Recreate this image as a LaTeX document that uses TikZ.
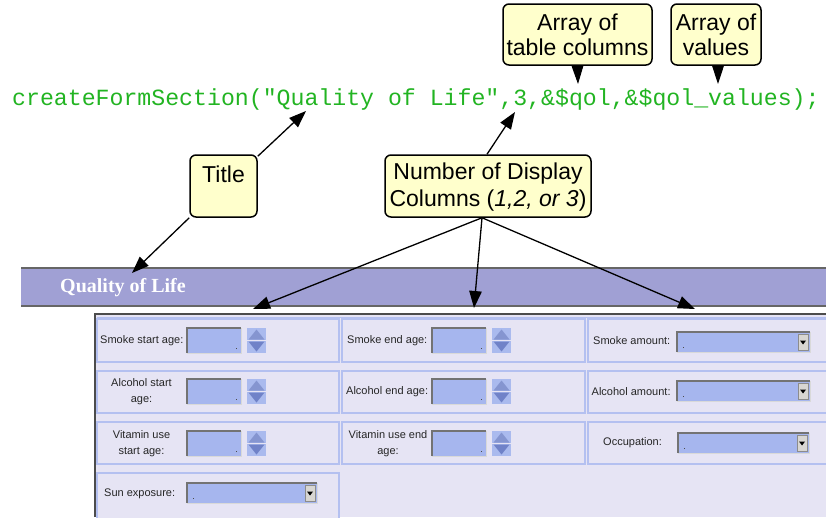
\documentclass[tikz,border=0pt]{standalone}
\usepackage{fontspec}
\usetikzlibrary{arrows.meta}
\newfontfamily\sansf{Liberation Sans}
\newfontfamily\seriff{Liberation Serif}
\newfontfamily\monof{Liberation Mono}
\definecolor{codegreen}{RGB}{34,180,34}
\definecolor{calloutfill}{RGB}{255,255,204}
\definecolor{barfill}{RGB}{160,160,212}
\definecolor{panelfill}{RGB}{230,228,244}
\definecolor{cellline}{RGB}{180,192,240}
\definecolor{boxfill}{RGB}{166,182,238}
\definecolor{spinbg}{RGB}{170,186,238}
\definecolor{spintri}{RGB}{112,130,200}
\definecolor{btnfill}{RGB}{216,214,210}
\tikzset{
  callout/.style={draw=black, line width=1.5pt, fill=calloutfill, rounded corners=6pt,
    align=center, inner sep=0pt},
  callfont/.style={font={\sansf\fontsize{23}{#1}\selectfont}},
  pointer/.style={line width=1.3pt, -{Triangle[length=17pt,width=12.5pt]}},
  tab/.style={line width=1pt, -{Triangle[length=18pt,width=11.5pt]}},
  cell/.style={draw=cellline, line width=1.2pt, fill=panelfill},
  lbl/.style={font={\sansf\fontsize{11}{16}\selectfont}, inner sep=0pt, text=black!85},
  pics/numbox/.style={code={
    \fill[boxfill] (0,0) rectangle (54,25);
    \draw[black!55, line width=1.2pt] (0,25) -- (0,0) -- (54,0);
    \draw[white!85!black, line width=0.8pt] (54,0) -- (54,25) -- (0,25);
    \fill[black!70] (48.5,19.5) rectangle (49.7,20.7);
    % spinner buttons
    \fill[spinbg] (60,0) rectangle (79,12.3);
    \fill[spinbg] (60,12.7) rectangle (79,25);
    \fill[spintri!85!white] (61.5,11.5) -- (77.5,11.5) -- (69.5,1.5) -- cycle;
    \fill[spintri] (61.5,13.5) -- (77.5,13.5) -- (69.5,23.5) -- cycle;
  }},
  pics/combo/.style={code={
    \fill[boxfill] (0,0) rectangle (#1,20);
    \draw[black!55, line width=1.2pt] (0,20) -- (0,0) -- (#1,0);
    \draw[white!85!black, line width=0.8pt] (#1,0) -- (#1,20) -- (0,20);
    \fill[black!70] (6,14.5) rectangle (7.2,15.7);
    \filldraw[fill=btnfill, draw=black!45, line width=0.6pt] (#1-12,2) rectangle (#1-2,18);
    \fill[black] (#1-10,8.5) -- (#1-4,8.5) -- (#1-7,12.5) -- cycle;
  }},
}
\begin{document}
\begin{tikzpicture}[x=1pt, y=-1pt]
\useasboundingbox (0,0) rectangle (826,517);

% ---- function call ----
\node[anchor=west, inner sep=0pt, text=codegreen, font={\monof\fontsize{23.2}{26}\selectfont}]
  (code) at (12,99.5) {createFormSection("Quality of Life",3,\&\$qol,\&\$qol\_values);};

% ---- form section header ----
\fill[barfill] (21,268) rectangle (826,306);
\draw[black!60, line width=1.2pt] (21,268) -- (826,268);
\draw[black!60, line width=1.2pt] (21,306) -- (826,306);
\node[anchor=west, inner sep=0pt, text=white, font={\seriff\bfseries\fontsize{20}{24}\selectfont}]
  (hdr) at (60,288) {Quality of Life};

% ---- form panel ----
\fill[panelfill] (95,314) rectangle (826,517);
\draw[cellline, line width=1.2pt] (97,317.5) -- (826,317.5);
\draw[black!70, line width=1.2pt] (95,517) -- (95,314) -- (826,314);

% cells
\foreach \xa/\xb in {97/339, 342/585, 588/830} {
  \foreach \ya/\yb in {319/362, 371/413, 422/464} {
    \draw[cell] (\xa,\ya) rectangle (\xb,\yb);
  }
}
\draw[cell] (97,473) rectangle (339,521);

% row 1
\node[lbl, anchor=west] (l11) at (100,341) {Smoke start age:};
\pic at (187,328) {numbox};
\node[lbl, anchor=west] (l12) at (347,341) {Smoke end age:};
\pic at (432,328) {numbox};
\node[lbl, anchor=west] (l13) at (593,341) {Smoke amount:};
\pic at (677,332) {combo=133};

% row 2
\node[lbl, align=center] (l21) at (141.5,392) {Alcohol start\\age:};
\pic at (187,379) {numbox};
\node[lbl, anchor=west] (l22) at (346,392) {Alcohol end age:};
\pic at (432,379) {numbox};
\node[lbl, anchor=west] (l23) at (591.5,392) {Alcohol amount:};
\pic at (677,381) {combo=133};

% row 3
\node[lbl, align=center] (l31) at (141.5,444) {Vitamin use\\start age:};
\pic at (187,431) {numbox};
\node[lbl, align=center] (l32) at (388,444) {Vitamin use end\\age:};
\pic at (432,431) {numbox};
\node[lbl, anchor=west] (l33) at (603,443) {Occupation:};
\pic at (678,433) {combo=131};

% row 4
\node[lbl, anchor=west] (l41) at (104,494) {Sun exposure:};
\pic at (187,483) {combo=130};

% ---- callouts ----
\node[callout, callfont=25, minimum width=149, minimum height=61] (cols) at (577.5,34.5)
  {Array of\\table columns};
\node[callout, callfont=25, minimum width=90, minimum height=61] (vals) at (716,34.5)
  {Array of\\values};
\node[callout, callfont=27, minimum width=67, minimum height=62] (title) at (223.5,186)
  {\rule{0pt}{19pt}Title\\\mbox{}};
\node[callout, callfont=27, minimum width=206, minimum height=62] (ncol) at (488,186)
  {\rule{0pt}{18pt}Number of Display\\Columns (\textit{1,2, or 3})};

% ---- pointer targets ----
\coordinate (tqol) at (306,111);
\coordinate (tthree) at (515,112);
\coordinate (tcols) at (578,84);
\coordinate (tvals) at (718,84);
\coordinate (tbar) at (132,273);
\coordinate (tc1) at (253,309);
\coordinate (tc2) at (474,308);
\coordinate (tc3) at (695,309);

% ---- connectors ----
\draw[tab] (cols.south) -- (tcols);
\draw[tab] ([xshift=2pt]vals.south) -- (tvals);
\draw[pointer] ([yshift=-2pt]title.north east) -- (tqol);
\draw[pointer] (title.south west) -- (tbar);
\draw[pointer] ([xshift=-1pt]ncol.north) -- (tthree);
\draw[pointer] ([xshift=-6pt]ncol.south) -- (tc1);
\draw[pointer] ([xshift=-6pt]ncol.south) -- (tc2);
\draw[pointer] ([xshift=-6pt]ncol.south) -- (tc3);
\end{tikzpicture}
\end{document}
